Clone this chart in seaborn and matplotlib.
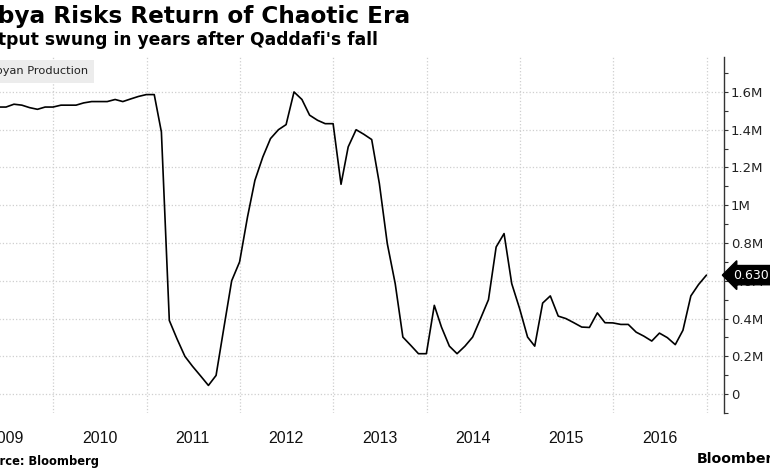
import pandas as pd
import matplotlib
matplotlib.use("Agg")
import matplotlib.pyplot as plt
import matplotlib.dates as mdates
from matplotlib.ticker import MultipleLocator, FuncFormatter
import seaborn as sns

# Libyan crude output, million barrels/day, month-end (Jan 2009 - Dec 2016)
months = pd.date_range("2009-01-31", "2016-12-31", freq="ME")
output_2009 = [1.52, 1.52, 1.51, 1.52, 1.52, 1.52, 1.535, 1.53, 1.517, 1.508, 1.52, 1.52]
output_2010 = [1.53, 1.53, 1.53, 1.542, 1.549, 1.549, 1.549, 1.56, 1.549, 1.563, 1.576, 1.586]
output_2011 = [1.586, 1.388, 0.39, 0.293, 0.20, 0.147, 0.097, 0.046, 0.099, 0.355, 0.60, 0.70]
output_2012 = [0.938, 1.132, 1.256, 1.353, 1.40, 1.427, 1.60, 1.56, 1.477, 1.45, 1.432, 1.432]
output_2013 = [1.111, 1.309, 1.40, 1.376, 1.348, 1.115, 0.797, 0.585, 0.302, 0.258, 0.214, 0.214]
output_2014 = [0.47, 0.355, 0.254, 0.214, 0.254, 0.302, 0.40, 0.50, 0.779, 0.85, 0.585, 0.452]
output_2015 = [0.302, 0.254, 0.482, 0.52, 0.413, 0.40, 0.378, 0.355, 0.353, 0.43, 0.378, 0.377]
output_2016 = [0.369, 0.369, 0.328, 0.307, 0.281, 0.323, 0.299, 0.262, 0.338, 0.52, 0.58, 0.63]
last_label = "0.630"

df = pd.DataFrame({
    "date": months,
    "output": output_2009 + output_2010 + output_2011 + output_2012
              + output_2013 + output_2014 + output_2015 + output_2016,
})

sns.set_style("white")
plt.rcParams["font.family"] = ["DejaVu Sans"]

W, H = 770, 470
fig = plt.figure(figsize=(W / 100, H / 100), dpi=100)

# pixel layout of the reference (plot runs off the left edge)
px_left, px_right, px_top, px_bottom = -60, 724, 57, 413
ax = fig.add_axes([px_left / W, 1 - px_bottom / H,
                   (px_right - px_left) / W, (px_bottom - px_top) / H])

d2010 = mdates.date2num(pd.Timestamp("2010-01-01"))
d2017 = mdates.date2num(pd.Timestamp("2017-01-01"))
scale = (706.7 - 53.3) / (d2017 - d2010)
ax.set_xlim(d2010 - (53.3 - px_left) / scale, d2010 + (px_right - 53.3) / scale)
ax.set_ylim(-0.1, 1.785)

sns.lineplot(data=df, x="date", y="output", color="black", linewidth=1.2, ax=ax)

# grid at year starts, labels mid-year
ax.xaxis.set_major_locator(mdates.YearLocator())
ax.xaxis.set_major_formatter(FuncFormatter(lambda v, p: ""))
ax.xaxis.set_minor_locator(mdates.MonthLocator(bymonth=7))
ax.xaxis.set_minor_formatter(mdates.DateFormatter("%Y"))
ax.tick_params(axis="x", which="both", length=0)
ax.tick_params(axis="x", which="minor", pad=13, labelsize=11.5, labelcolor="#111111")
for lab in ax.xaxis.get_minorticklabels():
    lab.set_family("Liberation Sans")

ax.yaxis.tick_right()
ax.yaxis.set_major_locator(MultipleLocator(0.2))
ax.yaxis.set_minor_locator(MultipleLocator(0.1))
ax.yaxis.set_major_formatter(FuncFormatter(lambda v, p: "0" if abs(v) < 1e-9 else f"{v:g}M"))
ax.tick_params(axis="y", which="both", direction="out", color="#333333", width=0.8, labelsize=9.5,
               labelcolor="#222222", pad=2)
ax.tick_params(axis="y", which="major", length=3)
ax.tick_params(axis="y", which="minor", length=3)

ax.grid(True, which="major", axis="both", color="#cfcfcf", linestyle=":", linewidth=0.9)
for side in ["left", "top", "bottom"]:
    ax.spines[side].set_visible(False)
ax.spines["right"].set_color("#333333")
ax.spines["right"].set_linewidth(1.0)
ax.set_xlabel("")
ax.set_ylabel("")

# last value tag on the right axis
ax.text(px_right / W + 0.0115, df["output"].iloc[-1], last_label,
        transform=matplotlib.transforms.blended_transform_factory(fig.transFigure, ax.transData),
        ha="left", va="center", color="white", fontsize=9, zorder=10, clip_on=False,
        bbox=dict(boxstyle="larrow,pad=0.25", fc="black", ec="black"))

# legend tag
fig.text(88 / W, 1 - 71.5 / H, "Libyan Production", ha="right", va="center", fontsize=8.2,
         color="#222222",
         bbox=dict(boxstyle="square,pad=0.55", fc="#ececec", ec="none"))

fig.text(410 / W, 1 - 16 / H, "Libya Risks Return of Chaotic Era", ha="right", va="center",
         fontsize=16.65, fontweight="bold", color="black")
fig.text(378 / W, 1 - 40 / H, "Output swung in years after Qaddafi's fall", ha="right",
         va="center", fontsize=12.3, fontweight="bold", color="black")
fig.text(99 / W, 1 - 461 / H, "Source: Bloomberg", ha="right", va="center", fontsize=8.3,
         fontweight="bold", color="black")
fig.text(697 / W, 1 - 459 / H, "Bloomberg", ha="left", va="center", fontsize=10.2,
         fontweight="bold", color="black")

fig.savefig("out.png", dpi=100)
